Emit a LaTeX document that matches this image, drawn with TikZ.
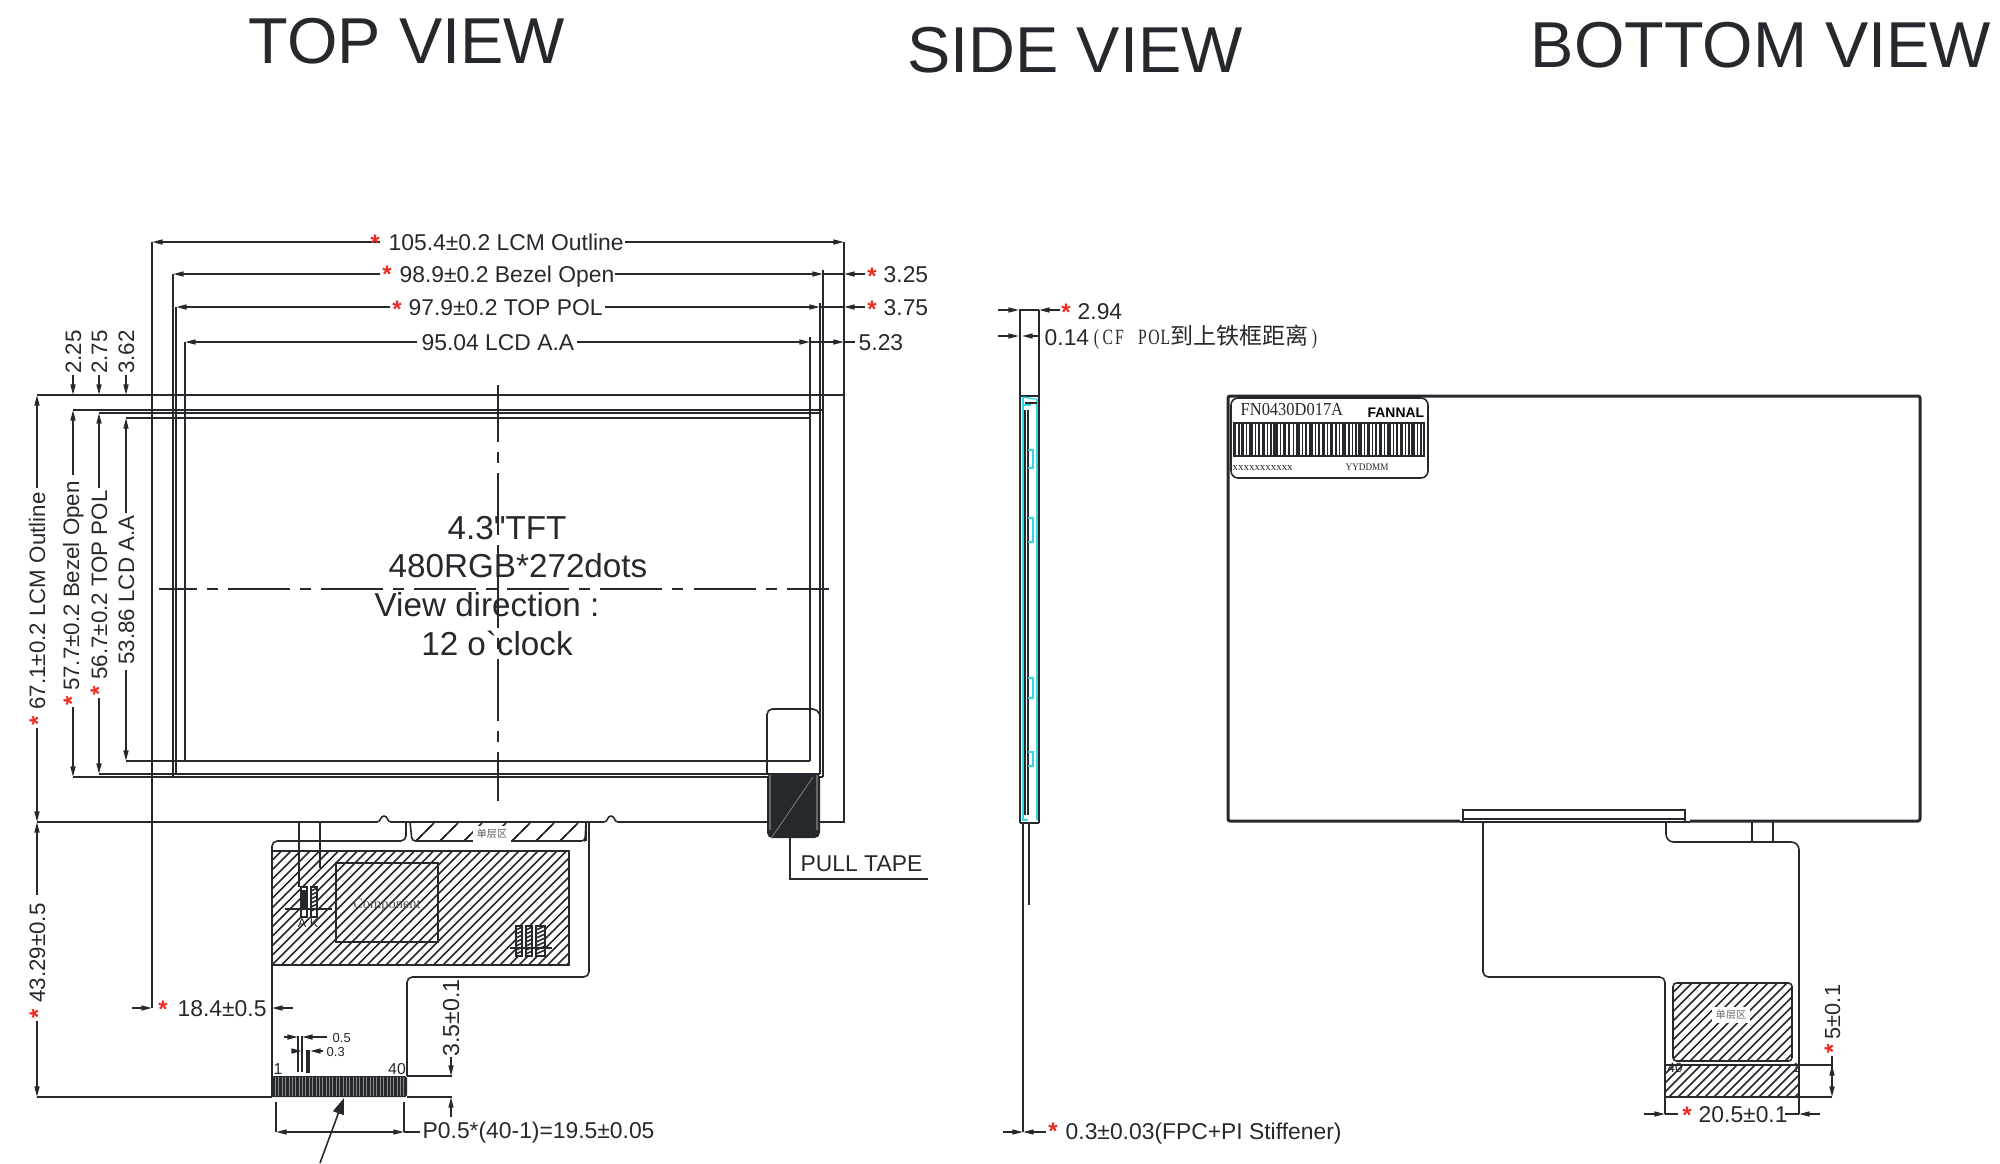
\documentclass[tikz,border=0pt]{standalone}
\usepackage{fontspec}
\setmainfont{Liberation Sans}
\newfontfamily\plainsans{Liberation Sans}
\newfontfamily\cjk{Noto Sans CJK SC}
\newfontfamily\serifm{Liberation Serif}
\newfontfamily\serifn[FakeStretch=0.9]{Liberation Serif}
\newfontfamily\serifc[FakeStretch=0.72]{Liberation Serif}
\usetikzlibrary{arrows.meta}
\definecolor{ink}{HTML}{25292D}
\definecolor{starred}{HTML}{EE2A20}
\definecolor{cyanl}{HTML}{35D6DE}
\newcommand\fs[1]{\fontsize{#1}{#1}\selectfont}
\newcommand\mc[1]{\makebox[3.27pt]{#1}}
\tikzset{
  ln/.style={draw=ink,line width=0.45pt},
  thickln/.style={draw=ink,line width=0.85pt},
  cy/.style={draw=cyanl,line width=0.4pt},
  dimtip/.style={-{Stealth[length=3pt,width=1.4pt,inset=0pt]},draw=ink,fill=ink,line width=0.45pt},
  lbl/.style={inner sep=0pt,text=ink,font={\fs{6.5}}},
  vlbl/.style={inner sep=0pt,text=ink,font={\fs{6.35}},anchor=base,rotate=90},
  bigtitle/.style={inner sep=0pt,text=ink,font={\fs{18.45}}},
  midlbl/.style={inner sep=0pt,text=ink,font={\fs{9.45}},anchor=base},
  starlbl/.style={inner sep=0pt,text=starred,font={\fs{6.8}\bfseries}},
  axisH/.style={ln,dash pattern=on 17.64pt off 2.85pt on 3.13pt off 2.85pt,dash phase=6.83pt},
  axisV/.style={ln,dash pattern=on 17.64pt off 2.85pt on 3.13pt off 2.85pt,dash phase=1.4pt},
}
% star centred at x,y ; rotated star centred at x,y
\newcommand\rstar[3]{\node[starlbl,anchor=base] (#1) at (#2,#3+14) {*};}
\newcommand\vstar[3]{\node[starlbl,anchor=base,rotate=90] (#1) at (#2+14,#3) {*};}
% hatching of a rectangle: options, x1,y1,x2,y2,spacing
\newcommand\hatch[6][]{%
  \begin{scope}
    \clip (#2,#3) rectangle (#4,#5);
    \pgfmathsetmacro\hA{#2-(#5-#3)}
    \pgfmathsetmacro\hB{\hA+#6}
    \foreach \hx in {\hA,\hB,...,#4} {\draw[ln,#1] (\hx,#5) -- ({\hx+#5-#3},#3);}
  \end{scope}}
\begin{document}
\begin{tikzpicture}[x=0.01cm,y=-0.01cm]
\useasboundingbox (0,0) rectangle (2000,1163);
% ---------- titles
\node[bigtitle] (titleTop) at (407,41) {TOP VIEW};
\node[bigtitle] (titleSide) at (1075,50) {SIDE VIEW};
\node[bigtitle] (titleBottom) at (1761,45) {BOTTOM VIEW};
% ---------- TOP VIEW outlines
\draw[ln] (37,395) -- (844,395);
\draw[ln] (844,242) -- (844,822) -- (820,822);
\draw[ln] (152,242) -- (152,1008);
\draw[ln] (173,274) -- (173,777);
\draw[ln] (176,307) -- (176,774);
\draw[ln] (185,342) -- (185,761);
\draw[ln] (823,270) -- (823,777);
\draw[ln] (820,303) -- (820,774);
\draw[ln] (810,337) -- (810,761);
\draw[ln] (73,410) -- (823,410);
\draw[ln] (99,413) -- (820,413);
\draw[ln] (126,418) -- (810,418);
\draw[ln] (73,777) -- (823,777);
\draw[ln] (99,774) -- (820,774);
\draw[ln] (126,761) -- (810,761);
\draw[axisH] (159,589) -- (829,589);
\draw[axisV] (498,385) -- (498,801);
% horizontal dimensions
\draw[dimtip] (380,242) -- (152,242);
\draw[dimtip] (625,242) -- (844,242);
\draw[dimtip] (380,274) -- (173,274);
\draw[dimtip] (615,274) -- (823,274);
\draw[ln] (823,274) -- (844,274);
\draw[dimtip] (865,274) -- (844,274);
\draw[dimtip] (390,307) -- (176,307);
\draw[dimtip] (605,307) -- (820,307);
\draw[ln] (820,307) -- (844,307);
\draw[dimtip] (865,307) -- (844,307);
\draw[dimtip] (417,342) -- (185,342);
\draw[dimtip] (577,342) -- (810,342);
\draw[dimtip] (810,342) -- (844,342);
\draw[ln] (844,342) -- (855,342);
\rstar{s1}{375}{237}
\node[lbl,anchor=base west] (d105) at (388,250) {105.4±0.2 LCM Outline};
\rstar{s2}{387}{268}
\node[lbl,anchor=base west] (d989) at (399,282) {98.9±0.2 Bezel Open};
\rstar{s3}{397}{303}
\node[lbl,anchor=base west] (d979) at (408,315) {97.9±0.2 TOP POL};
\node[lbl,anchor=base west] (d950) at (421,350) {95.04 LCD A.A};
\rstar{s4}{872}{270}
\node[lbl,anchor=base west] (d325) at (883,282) {3.25};
\rstar{s5}{872}{303}
\node[lbl,anchor=base west] (d375) at (883,315) {3.75};
\node[lbl,anchor=base west] (d523) at (858,350) {5.23};
% vertical dimensions
\draw[dimtip] (37,488) -- (37,395);
\draw[dimtip] (37,728) -- (37,822);
\draw[dimtip] (73,375) -- (73,395);
\draw[dimtip] (73,475) -- (73,410);
\draw[dimtip] (73,707) -- (73,777);
\draw[dimtip] (99,375) -- (99,395);
\draw[dimtip] (99,488) -- (99,413);
\draw[dimtip] (99,698) -- (99,774);
\draw[dimtip] (126,375) -- (126,395);
\draw[dimtip] (126,513) -- (126,418);
\draw[dimtip] (126,670) -- (126,761);
\draw[dimtip] (37,895) -- (37,822);
\draw[dimtip] (37,1021) -- (37,1097);
\node[vlbl] (v671) at (45,601) {67.1±0.2 LCM Outline};
\vstar{s6}{32}{721}
\node[vlbl] (v577) at (79,586) {57.7±0.2 Bezel Open};
\vstar{s7}{66}{701}
\node[vlbl] (v567) at (107,585) {56.7±0.2 TOP POL};
\vstar{s8}{93}{691}
\node[vlbl] (v538) at (134,590) {53.86 LCD A.A};
\node[vlbl] (v225) at (81,352) {2.25};
\node[vlbl] (v275) at (107,352) {2.75};
\node[vlbl] (v362) at (134,352) {3.62};
\node[vlbl] (v4329) at (45,953) {43.29±0.5};
\vstar{s9}{32}{1014}
% centre text
\node[midlbl] (c1) at (507,539) {4.3{\plainsans"}TFT};
\node[midlbl] (c2) at (518,577) {480RGB*272dots};
\node[midlbl] (c3) at (487,616) {View direction :};
\node[midlbl] (c4) at (497,655) {12 o{\plainsans`}clock};
% outline bottom line with bumps
\draw[ln] (37,822) -- (377,822) .. controls (381,822) and (380,816) .. (384,816) .. controls (388,816) and (387,822) .. (391,822) -- (604,822) .. controls (608,822) and (607,816) .. (611,816) .. controls (615,816) and (614,822) .. (618,822) -- (767,822);
% FPC top view
\draw[ln,rounded corners=1.5pt] (272,1097) -- (272,841) -- (406,841) -- (406,822);
\draw[ln] (586,822) -- (586,841);
\draw[ln,rounded corners=1.5pt] (589,822) -- (589,977) -- (407,977) -- (407,1076);
\draw[ln] (37,1097) -- (272,1097);
% single-layer strip
\draw[ln,rounded corners=1pt] (410,822) -- (412,841) -- (585,841) -- (586,822);
\hatch{410}{823}{585}{841}{24}
\begin{scope}[shift={(12,0)}]
\hatch[dash pattern=on 2.5pt off 1.3pt]{398}{823}{573}{841}{24}
\end{scope}
\node[inner sep=1pt,fill=white,text=ink!75,font={\cjk\fs{2.85}}] (strip) at (492,834) {单层区};
% big hatched area
\hatch{272}{851}{569}{965}{9.5}
\draw[line width=0.55pt,draw=ink] (272,851) rectangle (569,965);
\draw[line width=0.55pt,draw=ink] (336,863) rectangle (438,942);
\node[inner sep=0pt,text=ink!80,font={\serifm\fs{4.1}}] (comp) at (387,905) {Component};
\draw[ln] (299,822) -- (299,887);
\draw[ln] (320,822) -- (320,868);
% left component cluster
\fill[white] (300,887) rectangle (318,917);
\draw[ln] (301,887) rectangle (307,917);
\draw[ln] (311,887) rectangle (317,917);
\fill[ink] (302,890) rectangle (306,910);
\foreach \k in {891,895,899,903,907,911} {\draw[ln] (311,\k) -- (317,\k-3);}
\draw[ln] (285,909) -- (332,909);
\node[inner sep=0pt,text=ink,font={\fs{3.6}}] (ak) at (308,923) {A K};
% right component cluster
\fill[white] (516,926) rectangle (546,956);
\draw[ln] (516,926) rectangle (522,956);
\draw[ln] (526,926) rectangle (532,956);
\draw[ln] (536,926) rectangle (545,956);
\foreach \k in {930,934,938,942,946,950,954} {\draw[ln] (516,\k) -- (522,\k-3);\draw[ln] (526,\k) -- (532,\k-3);\draw[ln] (536,\k) -- (545,\k-4);}
\draw[ln] (510,948) -- (552,948);
% pins
\fill[ink,rounded corners=0.5pt] (272,1076) rectangle (407,1097);
\foreach \k in {1,...,39} {\draw[line width=0.22pt,draw=white!45!ink] ({272+\k*3.38},1077) -- ({272+\k*3.38},1096);}
\node[inner sep=0pt,text=ink,font={\fs{4.5}},anchor=base] (pin1) at (278,1074) {1};
\node[inner sep=0pt,text=ink,font={\fs{4.5}},anchor=base] (pin40) at (397,1074) {40};
% 0.5 and 0.3 details
\draw[ln] (298,1036) -- (298,1072);
\draw[ln] (302,1036) -- (302,1072);
\draw[line width=0.9pt,draw=ink] (308,1050) -- (308,1073);
\draw[dimtip] (284,1037) -- (298,1037);
\draw[dimtip] (327,1037) -- (302,1037);
\draw[dimtip] (293,1051) -- (302,1051);
\draw[dimtip] (323,1051) -- (310,1051);
\node[inner sep=0pt,text=ink,font={\fs{3.7}},anchor=base west] (d05) at (332,1042) {0.5};
\node[inner sep=0pt,text=ink,font={\fs{3.7}},anchor=base west] (d03) at (326,1056) {0.3};
% 18.4 dim
\draw[dimtip] (132,1008) -- (152,1008);
\draw[dimtip] (293,1008) -- (272,1008);
\rstar{s10}{163}{1003}
\node[lbl,anchor=base west] (d184) at (177,1016) {18.4±0.5};
% 3.5 dim
\draw[ln] (407,1076) -- (452,1076);
\draw[ln] (407,1097) -- (452,1097);
\draw[dimtip] (451,1057) -- (451,1076);
\draw[dimtip] (451,1117) -- (451,1097);
\node[vlbl,font={\fs{6.6}}] (d35) at (459,1018) {3.5±0.1};
% pitch dim
\draw[ln] (276,1102) -- (276,1132);
\draw[ln] (404,1102) -- (404,1132);
\draw[dimtip] (340,1132) -- (276,1132);
\draw[dimtip] (340,1132) -- (404,1132);
\draw[ln] (404,1132) -- (420,1132);
\node[lbl,anchor=base west] (pitch) at (422,1138) {P0.5*(40-1)=19.5±0.05};
% big leader arrow
\draw[line width=0.45pt,draw=ink,fill=ink,-{Stealth[length=4.6pt,width=3.2pt,inset=0pt]}] (320,1163) -- (344,1098);
\draw[ln] (345,1085) -- (345,1097);
% pull tape
\draw[ln,rounded corners=1.5pt] (767,773) -- (767,709) -- (818,709) -- (820,716);
\fill[ink,rounded corners=1.5pt] (767,773) rectangle (820,838);
\draw[line width=0.5pt,draw=white!30!ink] (770,775) -- (770,830);
\draw[line width=0.5pt,draw=white!30!ink] (817,775) -- (817,830);
\draw[line width=0.2pt,draw=white!45!ink] (772,837) -- (813,777);
\draw[ln] (790,838) -- (790,879) -- (928,879);
\node[lbl,anchor=base west] (pull) at (800,871) {PULL TAPE};
% ---------- SIDE VIEW
\draw[dimtip] (998,310) -- (1019,310);
\draw[dimtip] (1060,310) -- (1039,310);
\draw[ln] (1019,310) -- (1039,310);
\draw[dimtip] (998,336) -- (1019,336);
\draw[dimtip] (1039,336) -- (1022,336);
\rstar{s11}{1066}{306}
\node[lbl,anchor=base west] (d294) at (1077,319) {2.94};
\node[lbl,anchor=base west] (d014) at (1044,345) {0.14};
\node[inner sep=0pt,text=ink,font={\serifc\fs{6.2}},anchor=base west] (cfpol) at (1090,344) {\mc{(}\mc{C}\mc{F}\mc{~}\mc{P}\mc{O}\mc{L}};
\node[inner sep=0pt,text=ink,font={\cjk\fs{6.55}},anchor=base west] (cfcn) at (1170,344) {到上铁框距离};
\node[inner sep=0pt,text=ink,font={\serifc\fs{6.2}},anchor=base west] (cfend) at (1308,344) {\mc{)}};
\draw[line width=0.55pt,draw=ink] (1020,310) -- (1020,823);
\draw[ln] (1039,310) -- (1039,823);
\draw[ln] (1020,396) -- (1039,396);
\draw[cy] (1023,397) -- (1023,820) -- (1028,820);
\draw[cy] (1037,399) -- (1037,820);
\draw[cy] (1023,397) -- (1034,399) -- (1037,399);
\draw[cy] (1023,405) -- (1031,405);
\draw[ln] (1025,403) -- (1037,403);
\draw[ln] (1025,410) -- (1025,815);
\draw[line width=0.6pt,draw=ink] (1028,410) -- (1028,815);
\foreach \ya/\yb in {450/468,518/542,678/698,752/766} {
  \draw[cy,line width=0.5pt] (1028,\ya) -- (1033,\ya) -- (1033,\yb) -- (1028,\yb);
}
\draw[ln] (1020,823) -- (1039,823);
\draw[ln] (1023,823) -- (1023,1065);
\draw[ln] (1029,823) -- (1029,905);
\draw[line width=0.7pt,draw=ink] (1023,1065) -- (1023,1132);
\draw[dimtip] (1003,1132) -- (1023,1132);
\draw[dimtip] (1046,1132) -- (1023,1132);
\rstar{s12}{1053}{1125}
\node[lbl,anchor=base west] (d03f) at (1065,1139) {0.3±0.03(FPC+PI Stiffener)};
% ---------- BOTTOM VIEW
\draw[thickln,rounded corners=0.6pt] (1460,821) -- (1228,821) -- (1228,396) -- (1920,396) -- (1920,821) -- (1690,821);
\draw[ln] (1463,822) -- (1463,810) -- (1685,810) -- (1685,822);
\draw[line width=0.55pt,draw=ink] (1460,822) -- (1690,822);
\draw[ln] (1463,819) -- (1685,819);
\draw[ln,rounded corners=1.5pt] (1483,822) -- (1483,977) -- (1665,977) -- (1665,1114);
\draw[ln,rounded corners=2.2pt] (1666,822) -- (1666,842) -- (1799,842) -- (1799,1114);
\draw[ln] (1752,822) -- (1752,842);
\draw[ln] (1773,822) -- (1773,842);
% label
\draw[ln,rounded corners=2pt,fill=white] (1231,398) rectangle (1428,478);
\node[inner sep=0pt,text=ink,font={\serifn\fs{5.2}},anchor=base west] (fn) at (1240,415) {FN0430D017A};
\node[inner sep=0pt,text=black,font={\fs{3.95}\bfseries},anchor=base west] (fannal) at (1367,417) {FANNAL};
\draw[ln] (1233,423) -- (1425,423);
\draw[ln] (1233,456) -- (1425,456);
\foreach \bx/\bw in {1233/3,1238/1.5,1241/3,1246/1,1249/4,1255/1,1258/1.5,1262/3,1267/1,1270/1.5,1273/5,1280/1,1283/3,1288/1.5,1293/1,1296/4,1302/1,1305/2,1309/4,1315/1,1318/1.5,1322/3,1327/1,1330/3,1335/1.5,1339/1,1342/4,1348/2,1352/1,1355/1.5,1358/4,1364/1,1367/3,1372/1,1375/1.5,1379/3,1384/1,1387/4,1393/1,1396/1.5,1400/3,1405/1,1408/1.5,1411/4,1417/1,1420/1.5,1423/2} {
  \fill[ink] (\bx,423) rectangle ({\bx+\bw},456);
}
\node[inner sep=0pt,text=ink,font={\serifm\fs{3.1}},anchor=base west] (xs) at (1232,470) {xxxxxxxxxxx};
\node[inner sep=0pt,text=ink,font={\serifn\fs{2.9}},anchor=base west] (yy) at (1345,470) {YYDDMM};
% hatches
\hatch{1673}{983}{1792}{1061}{9.5}
\draw[ln,rounded corners=1pt] (1673,983) rectangle (1792,1061);
\node[inner sep=1pt,fill=white,text=ink!70,font={\cjk\fs{2.85}}] (single) at (1731,1015) {单层区};
\hatch{1665}{1065}{1799}{1097}{9}
\draw[ln] (1665,1065) -- (1832,1065);
\draw[ln] (1665,1097) -- (1832,1097);
\node[inner sep=0pt,text=ink,font={\fs{3.8}}] (p40) at (1675,1068) {40};
\node[inner sep=0pt,text=ink,font={\fs{3.8}}] (p1) at (1796,1068) {1};
\draw[ln] (1832,1056) -- (1832,1081);
\draw[dimtip] (1832,1081) -- (1832,1065);
\draw[dimtip] (1832,1081) -- (1832,1097);
\vstar{s13}{1827}{1049}
\node[vlbl,font={\fs{6.2}}] (d5) at (1840,1012) {5±0.1};
\draw[dimtip] (1644,1114) -- (1665,1114);
\draw[ln] (1665,1114) -- (1678,1114);
\draw[dimtip] (1820,1114) -- (1799,1114);
\draw[ln] (1785,1114) -- (1799,1114);
\rstar{s14}{1687}{1109}
\node[lbl,anchor=base west] (d205) at (1698,1122) {20.5±0.1};
\end{tikzpicture}
\end{document}
